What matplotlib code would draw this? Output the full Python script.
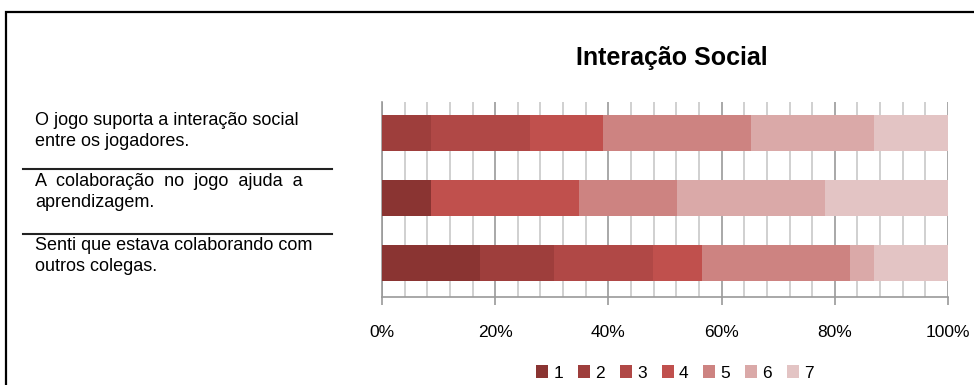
import matplotlib.pyplot as plt
import matplotlib.transforms as mtransforms
from matplotlib.patches import Rectangle
from matplotlib.ticker import MultipleLocator, PercentFormatter

# respostas (escala 1..7) para cada afirmação, n = 23
perguntas = [
    "O jogo suporta a interação social\nentre os jogadores.",
    "A  colaboração  no  jogo  ajuda  a\naprendizagem.",
    "Senti que estava colaborando com\noutros colegas.",
]
escala = ['1', '2', '3', '4', '5', '6', '7']
respostas = [
    [0, 2, 4, 3, 6, 5, 3],
    [2, 0, 0, 6, 4, 6, 5],
    [4, 3, 4, 2, 6, 1, 3],
]
cores = ['#8a3432', '#9e3e3c', '#b04846', '#c0504d', '#cd8381', '#daa9a8', '#e3c4c4']

plt.rcParams['font.family'] = ['Liberation Sans', 'DejaVu Sans']

fig = plt.figure(figsize=(9.74, 3.85), dpi=100)
ax = fig.add_axes([382 / 974, 88 / 385, 566 / 974, 195 / 385])

# percentuais por linha
pct = []
for linha in respostas:
    total = sum(linha)
    pct.append([v / total * 100 for v in linha])

ypos = list(range(len(perguntas)))
esquerda = [0.0] * len(perguntas)
for k, nome in enumerate(escala):
    valores = [p[k] for p in pct]
    ax.barh(ypos, valores, left=esquerda, height=0.56, color=cores[k],
            label=nome, zorder=3, linewidth=0)
    esquerda = [a + b for a, b in zip(esquerda, valores)]

ax.set_xlim(0, 100)
ax.set_ylim(2.52, -0.48)
ax.xaxis.set_major_locator(MultipleLocator(20))
ax.xaxis.set_minor_locator(MultipleLocator(4))
ax.xaxis.set_major_formatter(PercentFormatter(decimals=0))
ax.grid(axis='x', which='minor', color='#c8c8c8', linewidth=1.2, zorder=0)
ax.grid(axis='x', which='major', color='#9a9a9a', linewidth=1.2, zorder=0)
ax.set_yticks([])
for s in ['top', 'right']:
    ax.spines[s].set_visible(False)
ax.spines['left'].set_color('#9a9a9a')
ax.spines['bottom'].set_color('#9a9a9a')
ax.spines['left'].set_linewidth(1.2)
ax.spines['bottom'].set_linewidth(1.2)
ax.tick_params(axis='x', which='major', length=6, width=1.2, color='#9a9a9a',
               labelsize=12.5, pad=14)
ax.tick_params(axis='x', which='minor', length=0)

# rótulos das afirmações à esquerda
trans = mtransforms.blended_transform_factory(fig.transFigure, ax.transData)
desloc = [-0.04, -0.10, -0.11]
for i, texto in enumerate(perguntas):
    fig.text(35 / 974, i + desloc[i], texto, transform=trans, ha='left', va='center',
             fontsize=13, linespacing=1.3)
for i in range(1, len(perguntas)):
    ax.plot([23 / 974, 332 / 974], [i - 0.45, i - 0.45], transform=trans,
            color='#222222', linewidth=1.5, clip_on=False)

fig.text(672 / 974, 1 - 58 / 385, 'Interação Social', ha='center', va='center',
         fontsize=18, fontweight='bold')

fig.legend(loc='center', bbox_to_anchor=(675 / 974, 1 - 373 / 385), ncol=7,
           frameon=False, fontsize=12.5, handlelength=0.7, handleheight=0.7,
           handletextpad=0.3, columnspacing=0.85)

# moldura externa
fig.patches.append(Rectangle((6 / 974, -0.2), 1.2, 0.2 + 1 - 12 / 385,
                             transform=fig.transFigure, fill=False,
                             edgecolor='black', linewidth=1.6))

fig.savefig('out.png', dpi=100)
